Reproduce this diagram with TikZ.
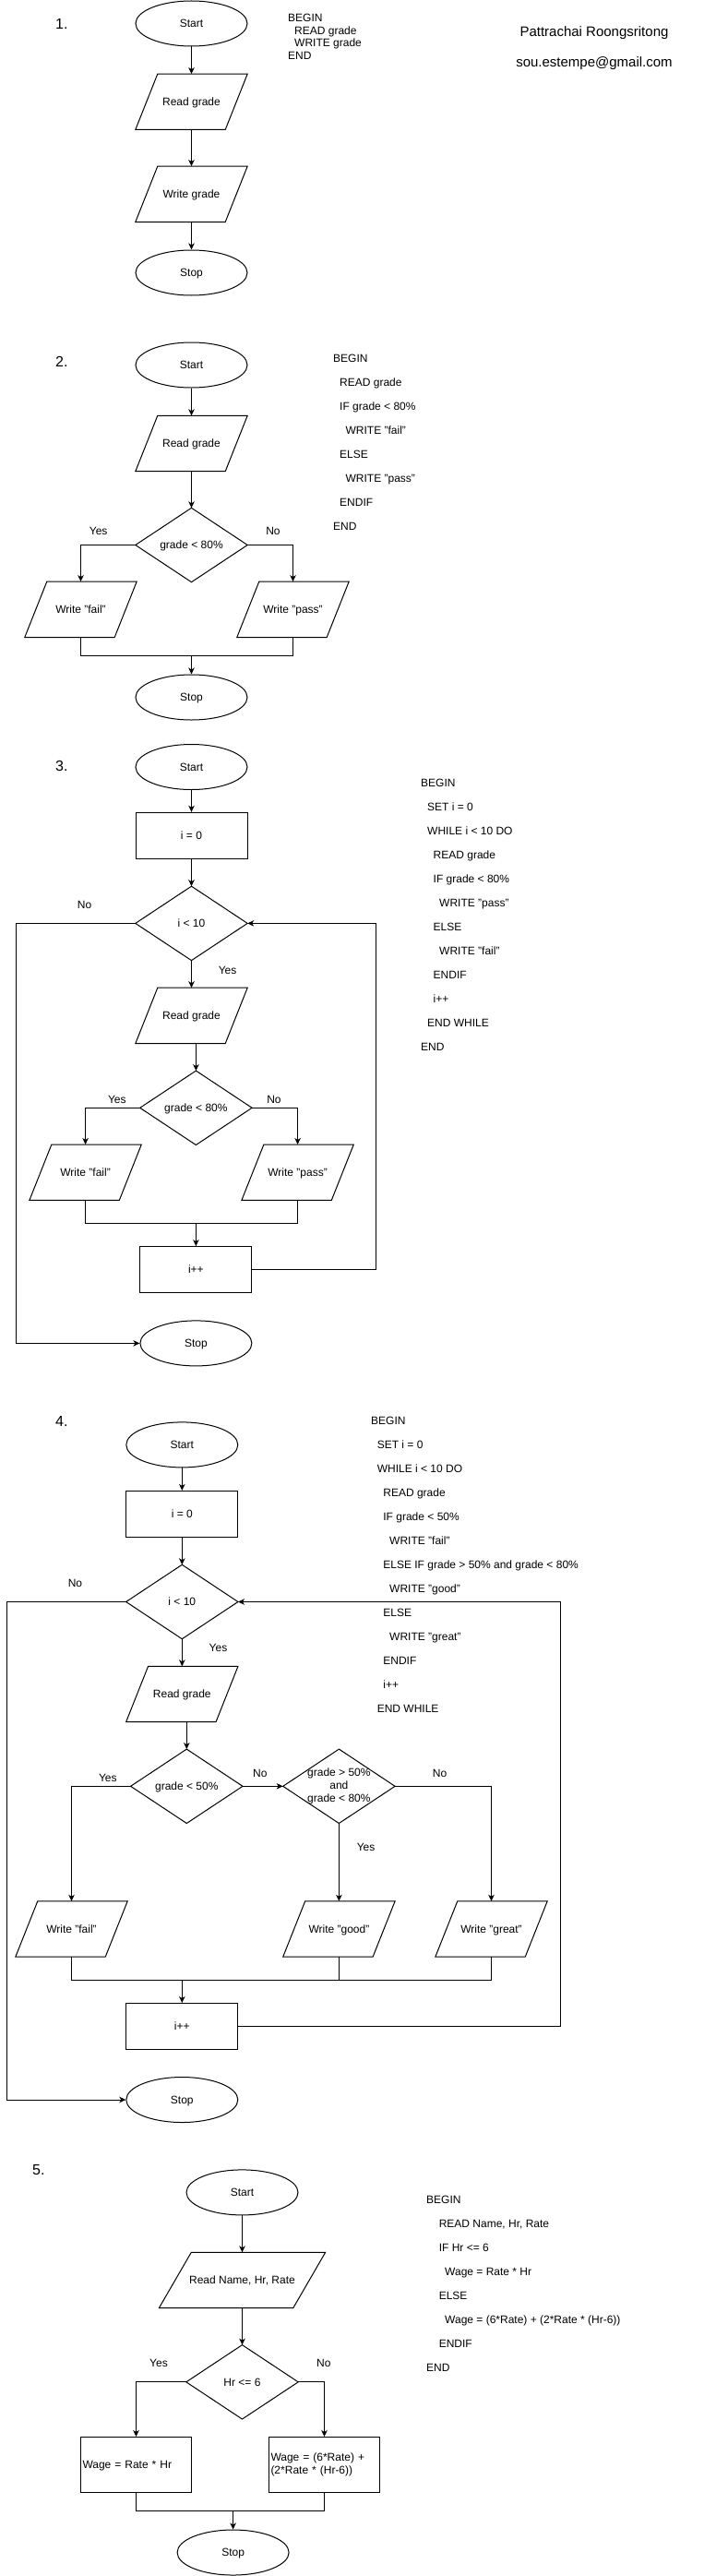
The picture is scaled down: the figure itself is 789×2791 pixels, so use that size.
\documentclass[tikz,border=0pt]{standalone}
\usepackage{fontspec}
\setmainfont{Liberation Sans}
\usetikzlibrary{shapes.geometric,arrows.meta,calc}
\newcommand\mkpara[2]{\draw[ln] (#1.south west) -- ($(#1.north west)+(#2,0)$) -- (#1.north east) -- ($(#1.south east)-(#2,0)$) -- cycle;}
\newcommand\mkdiam[1]{\draw[ln] (#1.north) -- (#1.east) -- (#1.south) -- (#1.west) -- cycle;}
\begin{document}
\begin{tikzpicture}[x=1pt,y=-1pt,
  ln/.style={line width=1pt,black},
  arr/.style={line width=1pt,black,-{Stealth[length=7pt,width=6.5pt,inset=2pt]}},
  txt/.style={font=\fontsize{12}{14}\selectfont,inner sep=0pt,text height=8.6pt,text depth=0pt},
  term/.style={txt,ellipse,draw,line width=1pt,minimum width=121pt,minimum height=49pt},
  box/.style={txt,rectangle,draw,line width=1pt,minimum width=121pt,minimum height=50pt},
  ghost/.style={txt,rectangle,minimum width=121pt,minimum height=60pt},
  gd/.style={txt,rectangle,minimum width=121pt,minimum height=80pt},
  code/.style={txt,anchor=west},
  lbl/.style={txt},
  num/.style={font=\fontsize{16}{19}\selectfont,inner sep=0pt,anchor=west,text height=11.5pt,text depth=0pt}
]
\fill[white] (0,0) rectangle (789,2791);
\useasboundingbox (0,0) rectangle (789,2791);

% ---------------- Section 1 ----------------
\node[num] (n1) at (60,26) {1.};
\node[term] (s1) at (207.5,25.5) {Start};
\node[ghost] (r1) at (207.5,110.3) {Read grade}; \mkpara{r1}{24}
\node[ghost] (w1) at (207.5,210.3) {Write grade}; \mkpara{w1}{24}
\node[term] (e1) at (207.5,295.5) {Stop};
\draw[arr] (s1.south) -- (r1.north);
\draw[arr] (r1.south) -- (w1.north);
\draw[arr] (w1.south) -- (e1.north);
\foreach \i/\dx/\t in {0/0/BEGIN,1/7/READ grade,2/7/WRITE grade,3/0/END}
  \node[code] (c1-\i) at (312+\dx,19+13.8*\i) {\t};
\node[txt,font=\fontsize{15}{18}\selectfont,text height=10.7pt] (nm) at (644,34) {Pattrachai Roongsritong};
\node[txt,font=\fontsize{15}{18}\selectfont,text height=10.7pt] (em) at (644,67) {sou.estempe@gmail.com};

% ---------------- Section 2 ----------------
\node[num] (n2) at (60,391.5) {2.};
\node[term] (s2) at (207.5,395.5) {Start};
\node[ghost] (r2) at (207.5,480.5) {Read grade}; \mkpara{r2}{24}
\node[gd] (d2) at (207.5,590.5) {grade < 80\%}; \mkdiam{d2}
\node[ghost] (wf2) at (87.5,660.3) {Write "fail"}; \mkpara{wf2}{24}
\node[ghost] (wp2) at (317.5,660.3) {Write "pass"}; \mkpara{wp2}{24}
\node[term] (e2) at (207.5,755.5) {Stop};
\node[lbl] (y2) at (106.7,575.6) {Yes};
\node[lbl] (no2) at (296,575.6) {No};
\coordinate (m2) at (207.5,710.6);
\draw[arr] (s2.south) -- (r2.north);
\draw[arr] (r2.south) -- (d2.north);
\draw[arr] (d2.west) -| (wf2.north);
\draw[arr] (d2.east) -| (wp2.north);
\draw[ln] (wf2.south) |- (m2) -| (wp2.south);
\draw[arr] (m2) -- (e2.north);
\foreach \i/\dx/\t in {0/0/BEGIN,1/7/READ grade,2/7/{IF grade < 80\%},3/13.4/WRITE "fail",4/7/ELSE,5/13.4/WRITE "pass",6/7/ENDIF,7/0/END}
  \node[code] (c2-\i) at (361+\dx,388.5+26*\i) {\t};

% ---------------- Section 3 ----------------
\node[num] (n3) at (60,830) {3.};
\node[term] (s3) at (207.5,831) {Start};
\node[box] (i03) at (207.5,905.3) {i = 0};
\node[gd] (d3a) at (207.5,1000.4) {i < 10}; \mkdiam{d3a}
\node[ghost] (r3) at (207.5,1100.4) {Read grade}; \mkpara{r3}{24}
\node[gd] (d3b) at (212.4,1200.3) {grade < 80\%}; \mkdiam{d3b}
\node[ghost] (wf3) at (92.6,1270.2) {Write "fail"}; \mkpara{wf3}{24}
\node[ghost] (wp3) at (322.6,1270.2) {Write "pass"}; \mkpara{wp3}{24}
\node[box] (ipp3) at (212.4,1375.6) {i++};
\node[term] (e3) at (212.4,1455.4) {Stop};
\node[lbl] (no3a) at (91.6,980) {No};
\node[lbl] (y3a) at (246.6,1050.7) {Yes};
\node[lbl] (y3b) at (126.8,1190.7) {Yes};
\node[lbl] (no3b) at (297,1190.7) {No};
\coordinate (m3) at (212.4,1325);
\coordinate (L3) at (17.6,1000.4);
\coordinate (R3) at (407.7,1000.4);
\draw[arr] (s3.south) -- (i03.north);
\draw[arr] (i03.south) -- (d3a.north);
\draw[arr] (d3a.south) -- (r3.north);
\draw[arr] (r3.south -| d3b.north) -- (d3b.north);
\draw[arr] (d3b.west) -| (wf3.north);
\draw[arr] (d3b.east) -| (wp3.north);
\draw[ln] (wf3.south) |- (m3) -| (wp3.south);
\draw[arr] (m3) -- (ipp3.north);
\draw[arr] (ipp3.east) -| (R3) -- (d3a.east);
\draw[arr] (d3a.west) -- (L3) |- (e3.west);
\foreach \i/\dx/\t in {0/0/BEGIN,1/7/{SET i = 0},2/7/{WHILE i < 10 DO},3/13.5/READ grade,4/13.5/{IF grade < 80\%},5/20/WRITE "pass",6/13.5/ELSE,7/20/WRITE "fail",8/13.5/ENDIF,9/13.5/i++,10/7/END WHILE,11/0/END}
  \node[code] (c3-\i) at (456+\dx,848.4+26*\i) {\t};

% ---------------- Section 4 ----------------
\node[num] (n4) at (60,1540) {4.};
\node[term] (s4) at (197.3,1565.4) {Start};
\node[box] (i04) at (197.3,1640.4) {i = 0};
\node[gd] (d4a) at (197.3,1735.5) {i < 10}; \mkdiam{d4a}
\node[ghost] (r4) at (197.3,1835.5) {Read grade}; \mkpara{r4}{24}
\node[gd] (d4b) at (202.3,1935.3) {grade < 50\%}; \mkdiam{d4b}
\node[gd,text height=,text depth=,align=center,font=\fontsize{12}{14}\selectfont] (d4c) at (367.4,1935.3) {grade > 50\%\\and\\grade < 80\%}; \mkdiam{d4c}
\node[ghost] (wf4) at (77.5,2090) {Write "fail"}; \mkpara{wf4}{24}
\node[ghost] (wg4) at (367.4,2090) {Write "good"}; \mkpara{wg4}{24}
\node[ghost] (wgr4) at (532.5,2090) {Write "great"}; \mkpara{wgr4}{24}
\node[box] (ipp4) at (197.3,2195.5) {i++};
\node[term] (e4) at (197.3,2275) {Stop};
\node[lbl] (no4a) at (81.5,1715.4) {No};
\node[lbl] (y4a) at (236.5,1785.3) {Yes};
\node[lbl] (y4b) at (116.8,1925.8) {Yes};
\node[lbl] (no4b) at (281.8,1920.7) {No};
\node[lbl] (no4c) at (476.6,1920.7) {No};
\node[lbl] (y4c) at (396.6,2000.8) {Yes};
\coordinate (m4) at (197.3,2145.2);
\coordinate (L4) at (7.5,1735.5);
\coordinate (R4) at (607.5,1735.5);
\draw[arr] (s4.south) -- (i04.north);
\draw[arr] (i04.south) -- (d4a.north);
\draw[arr] (d4a.south) -- (r4.north);
\draw[arr] (r4.south -| d4b.north) -- (d4b.north);
\draw[arr] (d4b.west) -| (wf4.north);
\draw[arr] (d4b.east) -- (d4c.west);
\draw[arr] (d4c.south) -- (wg4.north);
\draw[arr] (d4c.east) -| (wgr4.north);
\draw[ln] (wf4.south) |- (m4) -| (wgr4.south);
\draw[ln] (wg4.south) -- (wg4.south |- m4);
\draw[arr] (m4) -- (ipp4.north);
\draw[arr] (ipp4.east) -| (R4) -- (d4a.east);
\draw[arr] (d4a.west) -- (L4) |- (e4.west);
\foreach \i/\dx/\t in {0/0/BEGIN,1/6.6/{SET i = 0},2/6.6/{WHILE i < 10 DO},3/13.2/READ grade,4/13.2/{IF grade < 50\%},5/20/WRITE "fail",6/13.2/{ELSE IF grade > 50\% and grade < 80\%},7/20/WRITE "good",8/13.2/ELSE,9/20/WRITE "great",10/13.2/ENDIF,11/13.2/i++,12/6.6/END WHILE}
  \node[code] (c4-\i) at (402+\dx,1538.8+26*\i) {\t};

% ---------------- Section 5 ----------------
\node[num] (n5) at (35,2350.3) {5.};
\node[term] (s5) at (262.5,2375.4) {Start};
\node[ghost,minimum width=180pt] (r5) at (262.5,2470.5) {Read Name, Hr, Rate}; \mkpara{r5}{35}
\node[gd] (d5) at (262.5,2580.8) {Hr <= 6}; \mkdiam{d5}
\node[txt,rectangle,draw,line width=1pt,minimum width=120pt,minimum height=60pt,text width=116pt,inner xsep=2pt,align=left] (b5l) at (147.5,2670.5) {Wage = Rate * Hr};
\node[rectangle,draw,line width=1pt,font=\fontsize{12}{13.6}\selectfont,minimum width=120pt,minimum height=60pt,text width=116pt,inner xsep=2pt,inner ysep=0pt,align=left] (b5r) at (351.5,2670.5) {Wage = (6*Rate) +\\(2*Rate * (Hr-6))};
\node[term] (e5) at (252.6,2765.5) {Stop};
\node[lbl] (y5) at (172,2560.6) {Yes};
\node[lbl] (no5) at (350.8,2560.6) {No};
\coordinate (m5) at (252.6,2720.7);
\draw[arr] (s5.south) -- (r5.north);
\draw[arr] (r5.south) -- (d5.north);
\draw[arr] (d5.west) -| (b5l.north);
\draw[arr] (d5.east) -| (b5r.north);
\draw[ln] (b5l.south) |- (m5) -| (b5r.south);
\draw[arr] (m5) -- (e5.north);
\foreach \i/\dx/\t in {0/0/BEGIN,1/13.6/{READ Name, Hr, Rate},2/13.6/{IF Hr <= 6},3/20/{Wage = Rate * Hr},4/13.6/ELSE,5/20/{Wage = (6*Rate) + (2*Rate * (Hr-6))},6/13.6/ENDIF,7/0/END}
  \node[code] (c5-\i) at (462+\dx,2383.5+26*\i) {\t};
\end{tikzpicture}
\end{document}
